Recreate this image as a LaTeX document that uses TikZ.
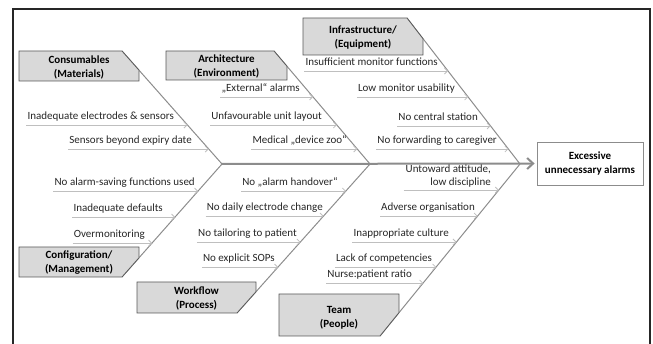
\documentclass[tikz,border=0pt]{standalone}
\usepackage{fontspec}
\setmainfont{Carlito}
\usetikzlibrary{arrows.meta,calc}
\definecolor{boxfill}{HTML}{D9D9D9}
\definecolor{boxline}{HTML}{595959}
\definecolor{bonegray}{HTML}{8C8C8C}
\definecolor{causegray}{HTML}{BFBFBF}
\definecolor{textgray}{HTML}{262626}
\definecolor{framecol}{HTML}{262626}
\begin{document}
\begin{tikzpicture}[x=1pt,y=-1pt,
  catbox/.style={draw=boxline, fill=boxfill, line width=0.8pt, line join=miter},
  cattext/.style={font=\fontsize{11}{14}\selectfont\bfseries, align=center, inner sep=0pt, text=black},
  bone/.style={draw=bonegray, line width=1pt},
  spine/.style={draw=bonegray, line width=2pt, -{Straight Barb[length=6pt,width=11pt]}, shorten >=2pt},
  cause/.style={draw=causegray, line width=0.8pt, -{Straight Barb[length=3pt,width=6pt]}},
  lbl/.style={inner sep=0pt, text=textgray, font=\fontsize{11}{13}\selectfont},
  effectbox/.style={draw=bonegray, fill=white, line width=0.8pt, minimum width=106pt, minimum height=43pt, align=center, font=\fontsize{11}{14}\selectfont\bfseries, inner sep=0pt},
  frame/.style={draw=framecol, line width=1.2pt}
]
\useasboundingbox (0,0) rectangle (653,344);
\draw[frame] (13,345) -- (13,9) -- (650,9) -- (650,345);

% junctions and bone ends
\coordinate (J1) at (222,164);
\coordinate (J2) at (370,164);
\coordinate (J3) at (520,164);
\coordinate (C1) at (122,51);
\coordinate (C2) at (274,51);
\coordinate (C3) at (407,18);
\coordinate (C4) at (122,277);
\coordinate (C5) at (237,313);
\coordinate (C6) at (380,336);

% effect
\node[effectbox] (effect) at (590,163.5) {Excessive\\unnecessary alarms};
\draw[spine] (J1) -- (effect.west);

% bones
\draw[bone] (C1) -- (J1);
\draw[bone] (C2) -- (J2);
\draw[bone] (C3) -- (J3);
\draw[bone] (C4) -- (J1);
\draw[bone] (C5) -- (J2);
\draw[bone] (C6) -- (J3);

% category boxes
\draw[catbox] (19,51) -- (C1) -- (139,70.2) -- (139,81) -- (19,81) -- cycle;
\node[cattext] (cons) at (79,67) {Consumables\\(Materials)};
\draw[catbox] (166,51) -- (C2) -- (287,66.3) -- (287,80) -- (166,80) -- cycle;
\node[cattext] (arch) at (226.5,66) {Architecture\\(Environment)};
\draw[catbox] (303,18) -- (C3) -- (423,38.7) -- (423,55) -- (303,55) -- cycle;
\node[cattext] (infra) at (363,37.5) {Infrastructure/\\(Equipment)};
\draw[catbox] (19,247) -- (139,247) -- (139,257.8) -- (C4) -- (19,277) -- cycle;
\node[cattext] (conf) at (79,263) {Configuration/\\(Management)};
\draw[catbox] (137,282) -- (256,282) -- (256,291.7) -- (C5) -- (137,313) -- cycle;
\node[cattext] (work) at (196.5,298) {Workflow\\(Process)};
\draw[catbox] (279,294) -- (399,294) -- (399,312.6) -- (C6) -- (279,336) -- cycle;
\node[cattext] (team) at (339,318) {Team\\(People)};

% Consumables causes
\coordinate (b11) at (intersection of C1--J1 and 0,125--10,125);
\node[lbl, anchor=base east] (c11) at (174,120) {Inadequate electrodes \& sensors};
\draw[cause] ([xshift=-1pt]c11.base west |- b11) -- (b11);
\coordinate (b12) at (intersection of C1--J1 and 0,149--10,149);
\node[lbl, anchor=base east] (c12) at (192,144) {Sensors beyond expiry date};
\draw[cause] ([xshift=-1pt]c12.base west |- b12) -- (b12);

% Architecture causes
\coordinate (b21) at (intersection of C2--J2 and 0,97--10,97);
\node[lbl, anchor=base east] (c21) at (300,92) {„External“ alarms};
\draw[cause] ([xshift=-1pt]c21.base west |- b21) -- (b21);
\coordinate (b22) at (intersection of C2--J2 and 0,125--10,125);
\node[lbl, anchor=base east] (c22) at (322,120) {Unfavourable unit layout};
\draw[cause] ([xshift=-1pt]c22.base west |- b22) -- (b22);
\coordinate (b23) at (intersection of C2--J2 and 0,149--10,149);
\node[lbl, anchor=base east] (c23) at (347,144) {Medical „device zoo“};
\draw[cause] ([xshift=-1pt]c23.base west |- b23) -- (b23);

% Infrastructure causes
\coordinate (b31) at (intersection of C3--J3 and 0,71--10,71);
\node[lbl, anchor=base east] (c31) at (438,66) {Insufficient monitor functions};
\draw[cause] ([xshift=-1pt]c31.base west |- b31) -- (b31);
\coordinate (b32) at (intersection of C3--J3 and 0,97--10,97);
\node[lbl, anchor=base east] (c32) at (455,92) {Low monitor usability};
\draw[cause] ([xshift=-1pt]c32.base west |- b32) -- (b32);
\coordinate (b33) at (intersection of C3--J3 and 0,126--10,126);
\node[lbl, anchor=base east] (c33) at (478,121) {No central station};
\draw[cause] ([xshift=-1pt]c33.base west |- b33) -- (b33);
\coordinate (b34) at (intersection of C3--J3 and 0,149--10,149);
\node[lbl, anchor=base east] (c34) at (497,144) {No forwarding to caregiver};
\draw[cause] ([xshift=-1pt]c34.base west |- b34) -- (b34);

% Configuration causes
\coordinate (b41) at (intersection of C4--J1 and 0,191--10,191);
\node[lbl, anchor=base east] (c41) at (195,186) {No alarm-saving functions used};
\draw[cause] ([xshift=-1pt]c41.base west |- b41) -- (b41);
\coordinate (b42) at (intersection of C4--J1 and 0,217--10,217);
\node[lbl, anchor=base east] (c42) at (163,212) {Inadequate defaults};
\draw[cause] ([xshift=-1pt]c42.base west |- b42) -- (b42);
\coordinate (b43) at (intersection of C4--J1 and 0,243--10,243);
\node[lbl, anchor=base east] (c43) at (145,238) {Overmonitoring};
\draw[cause] ([xshift=-1pt]c43.base west |- b43) -- (b43);

% Workflow causes
\coordinate (b51) at (intersection of C5--J2 and 0,191--10,191);
\node[lbl, anchor=base east] (c51) at (338,186) {No „alarm handover“};
\draw[cause] ([xshift=-1pt]c51.base west |- b51) -- (b51);
\coordinate (b52) at (intersection of C5--J2 and 0,216--10,216);
\node[lbl, anchor=base east] (c52) at (323,211) {No daily electrode change};
\draw[cause] ([xshift=-1pt]c52.base west |- b52) -- (b52);
\coordinate (b53) at (intersection of C5--J2 and 0,242--10,242);
\node[lbl, anchor=base east] (c53) at (297,237) {No tailoring to patient};
\draw[cause] ([xshift=-1pt]c53.base west |- b53) -- (b53);
\coordinate (b54) at (intersection of C5--J2 and 0,267--10,267);
\node[lbl, anchor=base east] (c54) at (275,262) {No explicit SOPs};
\draw[cause] ([xshift=-1pt]c54.base west |- b54) -- (b54);

% Team causes
\coordinate (b61) at (intersection of C6--J3 and 0,190--10,190);
\node[lbl, anchor=south east, align=right] (c61) at (491,187.5) {Untoward attitude,\\low discipline};
\draw[cause] ([xshift=-2pt]c61.south west |- b61) -- (b61);
\coordinate (b62) at (intersection of C6--J3 and 0,216--10,216);
\node[lbl, anchor=base east] (c62) at (475,211) {Adverse organisation};
\draw[cause] ([xshift=-1pt]c62.base west |- b62) -- (b62);
\coordinate (b63) at (intersection of C6--J3 and 0,242--10,242);
\node[lbl, anchor=base east] (c63) at (449,237) {Inappropriate culture};
\draw[cause] ([xshift=-1pt]c63.base west |- b63) -- (b63);
\coordinate (b64) at (intersection of C6--J3 and 0,267--10,267);
\node[lbl, anchor=base east] (c64) at (432,262) {Lack of competencies};
\draw[cause] ([xshift=-1pt]c64.base west |- b64) -- (b64);
\coordinate (b65) at (intersection of C6--J3 and 0,283--10,283);
\node[lbl, anchor=base east] (c65) at (412,278) {Nurse:patient ratio};
\draw[cause] ([xshift=-1pt]c65.base west |- b65) -- (b65);
\end{tikzpicture}
\end{document}
